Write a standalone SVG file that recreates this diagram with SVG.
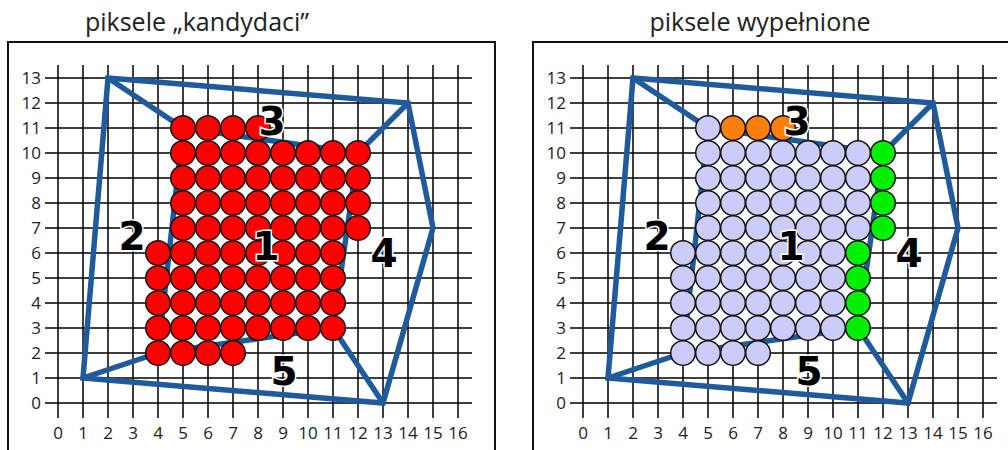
<svg xmlns="http://www.w3.org/2000/svg" xmlns:xlink="http://www.w3.org/1999/xlink" width="1008" height="450" viewBox="0 0 1008 450">
<style>
.title{font-family:"Open Sans","DejaVu Sans",sans-serif;font-size:25px;fill:#222;text-anchor:middle}
.tick{font-family:"Open Sans","DejaVu Sans",sans-serif;font-size:17px;fill:#222}
.tx{text-anchor:middle}
.ty{text-anchor:end}
.grid{stroke:#000;stroke-width:1.5;fill:none}
.box{stroke:#111;stroke-width:2;fill:none}
.poly{stroke:#1f5a9c;stroke-width:5.5;fill:none;stroke-linejoin:miter;stroke-linecap:round}
.c{stroke:#111;stroke-width:1.5}
.r{fill:#ff0000}
.l{fill:#ccccf8}
.g{fill:#00f000}
.o{fill:#ff7f0e}
.num{font-family:"DejaVu Sans","Liberation Sans",sans-serif;font-weight:bold;font-size:39px;fill:#000;stroke:#fff;stroke-width:3;paint-order:stroke;text-anchor:middle}
</style>
<defs>
<g id="gridbase">
<path class="grid" d="M58 65V418M83 65V418M108 65V418M133 65V418M158 65V418M183 65V418M208 65V418M233 65V418M258 65V418M283 65V418M308 65V418M333 65V418M358 65V418M383 65V418M408 65V418M433 65V418M458 65V418M45 78H472M45 103H472M45 128H472M45 153H472M45 178H472M45 203H472M45 228H472M45 253H472M45 278H472M45 303H472M45 328H472M45 353H472M45 378H472M45 403H472"/>
<g class="tick tx">
<text x="58" y="439">0</text><text x="83" y="439">1</text><text x="108" y="439">2</text><text x="133" y="439">3</text><text x="158" y="439">4</text><text x="183" y="439">5</text><text x="208" y="439">6</text><text x="233" y="439">7</text><text x="258" y="439">8</text><text x="283" y="439">9</text><text x="308" y="439">10</text><text x="333" y="439">11</text><text x="358" y="439">12</text><text x="383" y="439">13</text><text x="408" y="439">14</text><text x="433" y="439">15</text><text x="458" y="439">16</text>
</g>
<g class="tick ty">
<text x="41" y="84">13</text><text x="41" y="109">12</text><text x="41" y="134">11</text><text x="41" y="159">10</text><text x="41" y="184">9</text><text x="41" y="209">8</text><text x="41" y="234">7</text><text x="41" y="259">6</text><text x="41" y="284">5</text><text x="41" y="309">4</text><text x="41" y="334">3</text><text x="41" y="359">2</text><text x="41" y="384">1</text><text x="41" y="409">0</text>
</g>
<g class="poly">
<polygon points="108,78 408,103 433,228 383,403 83,378"/>
<polygon points="183,128 358,153 333,328 158,353"/>
<path d="M108 78L183 128M408 103L358 153M383 403L333 328M83 378L158 353"/>
</g>
</g>
<g id="labels" class="num">
<text x="272" y="135">3</text>
<text x="266" y="260">1</text>
<text x="132" y="250">2</text>
<text x="384" y="267">4</text>
<text x="284" y="385">5</text>
</g>
</defs>
<rect width="1008" height="450" fill="#fff"/>

<g id="panel-left">
<text class="title" x="197" y="31">piksele „kandydaci”</text>
<rect class="box" x="8" y="42" width="487" height="430"/>
<use xlink:href="#gridbase"/>
<g id="candidates" class="c r">
<circle cx="183" cy="128" r="12.3"/><circle cx="208" cy="128" r="12.3"/><circle cx="233" cy="128" r="12.3"/><circle cx="258" cy="128" r="12.3"/>
<circle cx="183" cy="153" r="12.3"/><circle cx="208" cy="153" r="12.3"/><circle cx="233" cy="153" r="12.3"/><circle cx="258" cy="153" r="12.3"/><circle cx="283" cy="153" r="12.3"/><circle cx="308" cy="153" r="12.3"/><circle cx="333" cy="153" r="12.3"/><circle cx="358" cy="153" r="12.3"/>
<circle cx="183" cy="178" r="12.3"/><circle cx="208" cy="178" r="12.3"/><circle cx="233" cy="178" r="12.3"/><circle cx="258" cy="178" r="12.3"/><circle cx="283" cy="178" r="12.3"/><circle cx="308" cy="178" r="12.3"/><circle cx="333" cy="178" r="12.3"/><circle cx="358" cy="178" r="12.3"/>
<circle cx="183" cy="203" r="12.3"/><circle cx="208" cy="203" r="12.3"/><circle cx="233" cy="203" r="12.3"/><circle cx="258" cy="203" r="12.3"/><circle cx="283" cy="203" r="12.3"/><circle cx="308" cy="203" r="12.3"/><circle cx="333" cy="203" r="12.3"/><circle cx="358" cy="203" r="12.3"/>
<circle cx="183" cy="228" r="12.3"/><circle cx="208" cy="228" r="12.3"/><circle cx="233" cy="228" r="12.3"/><circle cx="258" cy="228" r="12.3"/><circle cx="283" cy="228" r="12.3"/><circle cx="308" cy="228" r="12.3"/><circle cx="333" cy="228" r="12.3"/><circle cx="358" cy="228" r="12.3"/>
<circle cx="158" cy="253" r="12.3"/><circle cx="183" cy="253" r="12.3"/><circle cx="208" cy="253" r="12.3"/><circle cx="233" cy="253" r="12.3"/><circle cx="258" cy="253" r="12.3"/><circle cx="283" cy="253" r="12.3"/><circle cx="308" cy="253" r="12.3"/><circle cx="333" cy="253" r="12.3"/>
<circle cx="158" cy="278" r="12.3"/><circle cx="183" cy="278" r="12.3"/><circle cx="208" cy="278" r="12.3"/><circle cx="233" cy="278" r="12.3"/><circle cx="258" cy="278" r="12.3"/><circle cx="283" cy="278" r="12.3"/><circle cx="308" cy="278" r="12.3"/><circle cx="333" cy="278" r="12.3"/>
<circle cx="158" cy="303" r="12.3"/><circle cx="183" cy="303" r="12.3"/><circle cx="208" cy="303" r="12.3"/><circle cx="233" cy="303" r="12.3"/><circle cx="258" cy="303" r="12.3"/><circle cx="283" cy="303" r="12.3"/><circle cx="308" cy="303" r="12.3"/><circle cx="333" cy="303" r="12.3"/>
<circle cx="158" cy="328" r="12.3"/><circle cx="183" cy="328" r="12.3"/><circle cx="208" cy="328" r="12.3"/><circle cx="233" cy="328" r="12.3"/><circle cx="258" cy="328" r="12.3"/><circle cx="283" cy="328" r="12.3"/><circle cx="308" cy="328" r="12.3"/><circle cx="333" cy="328" r="12.3"/>
<circle cx="158" cy="353" r="12.3"/><circle cx="183" cy="353" r="12.3"/><circle cx="208" cy="353" r="12.3"/><circle cx="233" cy="353" r="12.3"/>
</g>
<use xlink:href="#labels"/>
</g>

<g id="panel-right">
<text class="title" x="760" y="31">piksele wypełnione</text>
<rect class="box" x="533" y="42" width="487" height="430"/>
<use xlink:href="#gridbase" transform="translate(525,0)"/>
<g id="filled" class="c" transform="translate(525,0)">
<circle class="l" cx="183" cy="128" r="12.3"/><circle class="o" cx="208" cy="128" r="12.3"/><circle class="o" cx="233" cy="128" r="12.3"/><circle class="o" cx="258" cy="128" r="12.3"/>
<g class="l">
<circle cx="183" cy="153" r="12.3"/><circle cx="208" cy="153" r="12.3"/><circle cx="233" cy="153" r="12.3"/><circle cx="258" cy="153" r="12.3"/><circle cx="283" cy="153" r="12.3"/><circle cx="308" cy="153" r="12.3"/><circle cx="333" cy="153" r="12.3"/>
<circle cx="183" cy="178" r="12.3"/><circle cx="208" cy="178" r="12.3"/><circle cx="233" cy="178" r="12.3"/><circle cx="258" cy="178" r="12.3"/><circle cx="283" cy="178" r="12.3"/><circle cx="308" cy="178" r="12.3"/><circle cx="333" cy="178" r="12.3"/>
<circle cx="183" cy="203" r="12.3"/><circle cx="208" cy="203" r="12.3"/><circle cx="233" cy="203" r="12.3"/><circle cx="258" cy="203" r="12.3"/><circle cx="283" cy="203" r="12.3"/><circle cx="308" cy="203" r="12.3"/><circle cx="333" cy="203" r="12.3"/>
<circle cx="183" cy="228" r="12.3"/><circle cx="208" cy="228" r="12.3"/><circle cx="233" cy="228" r="12.3"/><circle cx="258" cy="228" r="12.3"/><circle cx="283" cy="228" r="12.3"/><circle cx="308" cy="228" r="12.3"/><circle cx="333" cy="228" r="12.3"/>
<circle cx="158" cy="253" r="12.3"/><circle cx="183" cy="253" r="12.3"/><circle cx="208" cy="253" r="12.3"/><circle cx="233" cy="253" r="12.3"/><circle cx="258" cy="253" r="12.3"/><circle cx="283" cy="253" r="12.3"/><circle cx="308" cy="253" r="12.3"/>
<circle cx="158" cy="278" r="12.3"/><circle cx="183" cy="278" r="12.3"/><circle cx="208" cy="278" r="12.3"/><circle cx="233" cy="278" r="12.3"/><circle cx="258" cy="278" r="12.3"/><circle cx="283" cy="278" r="12.3"/><circle cx="308" cy="278" r="12.3"/>
<circle cx="158" cy="303" r="12.3"/><circle cx="183" cy="303" r="12.3"/><circle cx="208" cy="303" r="12.3"/><circle cx="233" cy="303" r="12.3"/><circle cx="258" cy="303" r="12.3"/><circle cx="283" cy="303" r="12.3"/><circle cx="308" cy="303" r="12.3"/>
<circle cx="158" cy="328" r="12.3"/><circle cx="183" cy="328" r="12.3"/><circle cx="208" cy="328" r="12.3"/><circle cx="233" cy="328" r="12.3"/><circle cx="258" cy="328" r="12.3"/><circle cx="283" cy="328" r="12.3"/><circle cx="308" cy="328" r="12.3"/>
<circle cx="158" cy="353" r="12.3"/><circle cx="183" cy="353" r="12.3"/><circle cx="208" cy="353" r="12.3"/><circle cx="233" cy="353" r="12.3"/>
</g>
<g class="g">
<circle cx="358" cy="153" r="12.3"/><circle cx="358" cy="178" r="12.3"/><circle cx="358" cy="203" r="12.3"/><circle cx="358" cy="228" r="12.3"/>
<circle cx="333" cy="253" r="12.3"/><circle cx="333" cy="278" r="12.3"/><circle cx="333" cy="303" r="12.3"/><circle cx="333" cy="328" r="12.3"/>
</g>
</g>
<use xlink:href="#labels" transform="translate(525,0)"/>
</g>
</svg>
